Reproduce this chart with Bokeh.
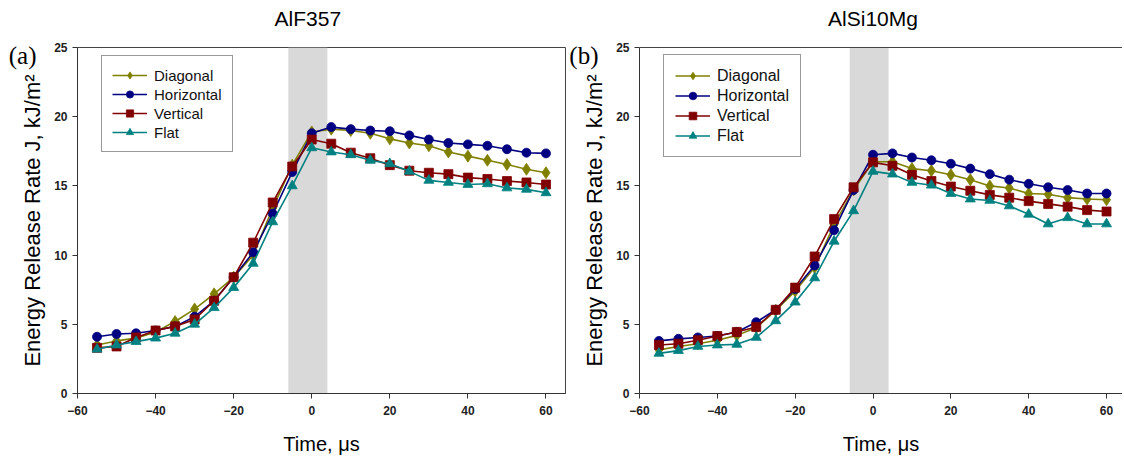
from bokeh.plotting import figure
from bokeh.models import FixedTicker, Legend, LegendItem, BoxAnnotation, LinearAxis, Range1d
from bokeh.layouts import row
from bokeh.embed import file_html
from bokeh.resources import INLINE

# ---- data ----
time_us = [-55, -50, -45, -40, -35, -30, -25, -20, -15, -10, -5,
           0, 5, 10, 15, 20, 25, 30, 35, 40, 45, 50, 55, 60]
series_names = ["Diagonal", "Horizontal", "Vertical", "Flat"]

# AlF357
diag_a = [3.5, 3.8, 4.0, 4.45, 5.2, 6.1, 7.2, 8.4, 10.0, 13.4, 16.5,
          18.9, 19.1, 19.0, 18.8, 18.4, 18.1, 17.9, 17.45, 17.15, 16.85, 16.55, 16.2, 15.95]
horiz_a = [4.1, 4.3, 4.35, 4.55, 4.85, 5.55, 6.7, 8.4, 10.2, 13.0, 16.0,
           18.8, 19.25, 19.1, 19.0, 18.95, 18.65, 18.35, 18.1, 18.0, 17.9, 17.65, 17.4, 17.35]
vert_a = [3.3, 3.4, 4.05, 4.55, 4.85, 5.35, 6.7, 8.4, 10.9, 13.8, 16.4,
          18.35, 18.05, 17.4, 17.0, 16.5, 16.1, 15.95, 15.85, 15.6, 15.5, 15.35, 15.25, 15.1]
flat_a = [3.2, 3.5, 3.75, 4.0, 4.35, 5.0, 6.2, 7.65, 9.4, 12.4, 15.0,
          17.75, 17.45, 17.25, 16.85, 16.6, 16.05, 15.4, 15.25, 15.1, 15.15, 14.85, 14.75, 14.5]

# AlSi10Mg
diag_b = [3.15, 3.4, 3.6, 3.85, 4.2, 4.75, 6.0, 7.4, 9.1, 12.2, 14.7,
          16.75, 16.75, 16.25, 16.1, 15.8, 15.45, 15.0, 14.85, 14.45, 14.4, 14.15, 14.05, 14.0]
horiz_b = [3.8, 3.95, 4.05, 4.15, 4.45, 5.15, 6.05, 7.55, 9.25, 11.8, 14.7,
           17.25, 17.35, 17.05, 16.85, 16.6, 16.25, 15.85, 15.45, 15.15, 14.9, 14.7, 14.45, 14.45]
vert_b = [3.5, 3.6, 3.85, 4.15, 4.45, 4.8, 6.05, 7.65, 9.9, 12.6, 14.9,
          16.7, 16.45, 15.8, 15.35, 14.95, 14.65, 14.35, 14.15, 13.9, 13.7, 13.5, 13.25, 13.15]
flat_b = [2.9, 3.1, 3.4, 3.5, 3.55, 4.05, 5.25, 6.6, 8.35, 11.0, 13.2,
          16.05, 15.85, 15.25, 15.05, 14.45, 14.05, 13.95, 13.55, 12.95, 12.25, 12.7, 12.25, 12.25]

shade_band = [-6, 4]
x_ticks = [-60, -40, -20, 0, 20, 40, 60]
y_ticks = [0, 5, 10, 15, 20, 25]
panel_titles = ["AlF357", "AlSi10Mg"]
panel_tags = ["(a)", "(b)"]

colors = ["#808000", "#000080", "#800000", "#008080"]
markers = ["diamond", "circle", "square", "triangle"]
msizes = [12, 9, 9, 10]

FONT = "Liberation Sans"


def make_panel(title, tag, data, width, mbl, mbr, x_end, title_x, legend_loc,
               leg_font, leg_gh, leg_pad, keep_outline):
    p = figure(width=width, height=457, x_range=Range1d(-60, x_end), y_range=Range1d(0, 25),
               output_backend="svg", toolbar_location=None,
               min_border_left=mbl, min_border_right=mbr, min_border_top=47, min_border_bottom=64)
    p.xgrid.visible = False
    p.ygrid.visible = False
    p.outline_line_color = "#444444" if keep_outline else None
    p.outline_line_width = 1
    p.background_fill_color = "white"

    p.add_layout(BoxAnnotation(left=shade_band[0], right=shade_band[1],
                               fill_color="#d9d9d9", fill_alpha=1.0, line_color=None,
                               level="underlay"))

    items = []
    for name, ys, c, m, s in zip(series_names, data, colors, markers, msizes):
        ln = p.line(time_us, ys, line_color=c, line_width=1.6)
        sc = p.scatter(time_us, ys, marker=m, size=s, fill_color=c, line_color=c, line_width=0.8)
        items.append(LegendItem(label=name, renderers=[ln, sc]))

    leg = Legend(items=items, location=legend_loc,
                 label_text_font=FONT, label_text_font_size=leg_font, label_text_color="#111111",
                 glyph_width=35, glyph_height=leg_gh, label_height=leg_gh, spacing=1,
                 padding=leg_pad, margin=0, label_standoff=7,
                 border_line_color="#333333", border_line_width=1,
                 background_fill_alpha=1.0)
    p.add_layout(leg)

    xa, ya = p.below[0], p.left[0]
    xa.ticker = FixedTicker(ticks=x_ticks)
    ya.ticker = FixedTicker(ticks=y_ticks)
    for ax in (xa, ya):
        ax.axis_line_color = "#333333"
        ax.major_tick_line_color = "#333333"
        ax.minor_tick_line_color = None
        ax.major_tick_out = 5
        ax.major_tick_in = 0
        ax.major_label_text_font = FONT
        ax.major_label_text_font_size = "12px"
        ax.major_label_text_font_style = "bold"
        ax.major_label_text_color = "#222222"
        ax.axis_label_text_font = FONT
        ax.axis_label_text_font_style = "normal"
        ax.axis_label_text_color = "#000000"
    xa.major_label_standoff = 7
    ya.major_label_standoff = 5
    xa.axis_label = "Time, μs"
    xa.axis_label_text_font_size = "20px"
    xa.axis_label_standoff = 15
    ya.axis_label = "Energy Release Rate J, kJ/m²"
    ya.axis_label_text_font_size = "22px"
    ya.axis_label_standoff = 6

    # panel tag "(a)" / "(b)" as a single labelled tick on an outer left axis
    tag_y = 24.4
    tag_axis = LinearAxis(ticker=FixedTicker(ticks=[tag_y]),
                          major_label_overrides={tag_y: tag},
                          axis_line_color=None, major_tick_line_color=None,
                          minor_tick_line_color=None, major_tick_out=0, major_tick_in=0,
                          major_label_standoff=-19,
                          major_label_text_font="Liberation Serif",
                          major_label_text_font_size="25px",
                          major_label_text_color="#000000")
    p.add_layout(tag_axis, "left")

    # panel title as a single labelled tick on a top axis (also gives the top border line)
    title_axis = LinearAxis(ticker=FixedTicker(ticks=[title_x]),
                            major_label_overrides={title_x: title},
                            axis_line_color=None if keep_outline else "#444444",
                            major_tick_line_color=None, minor_tick_line_color=None,
                            major_tick_out=0, major_tick_in=0,
                            major_label_standoff=18,
                            major_label_text_font=FONT,
                            major_label_text_font_size="21px",
                            major_label_text_color="#000000")
    p.add_layout(title_axis, "above")
    return p


p1 = make_panel(panel_titles[0], panel_tags[0], [diag_a, horiz_a, vert_a, flat_a],
                width=566, mbl=77, mbr=1, x_end=65, title_x=-1, legend_loc=(24, 241),
                leg_font="15px", leg_gh=18, leg_pad=10, keep_outline=True)
p2 = make_panel(panel_titles[1], panel_tags[1], [diag_b, horiz_b, vert_b, flat_b],
                width=556, mbl=71, mbr=0, x_end=64.1, title_x=0, legend_loc=(24, 236),
                leg_font="16px", leg_gh=19, leg_pad=11, keep_outline=False)

layout = row(p1, p2)
open("out.html", "w").write(file_html(layout, INLINE))
